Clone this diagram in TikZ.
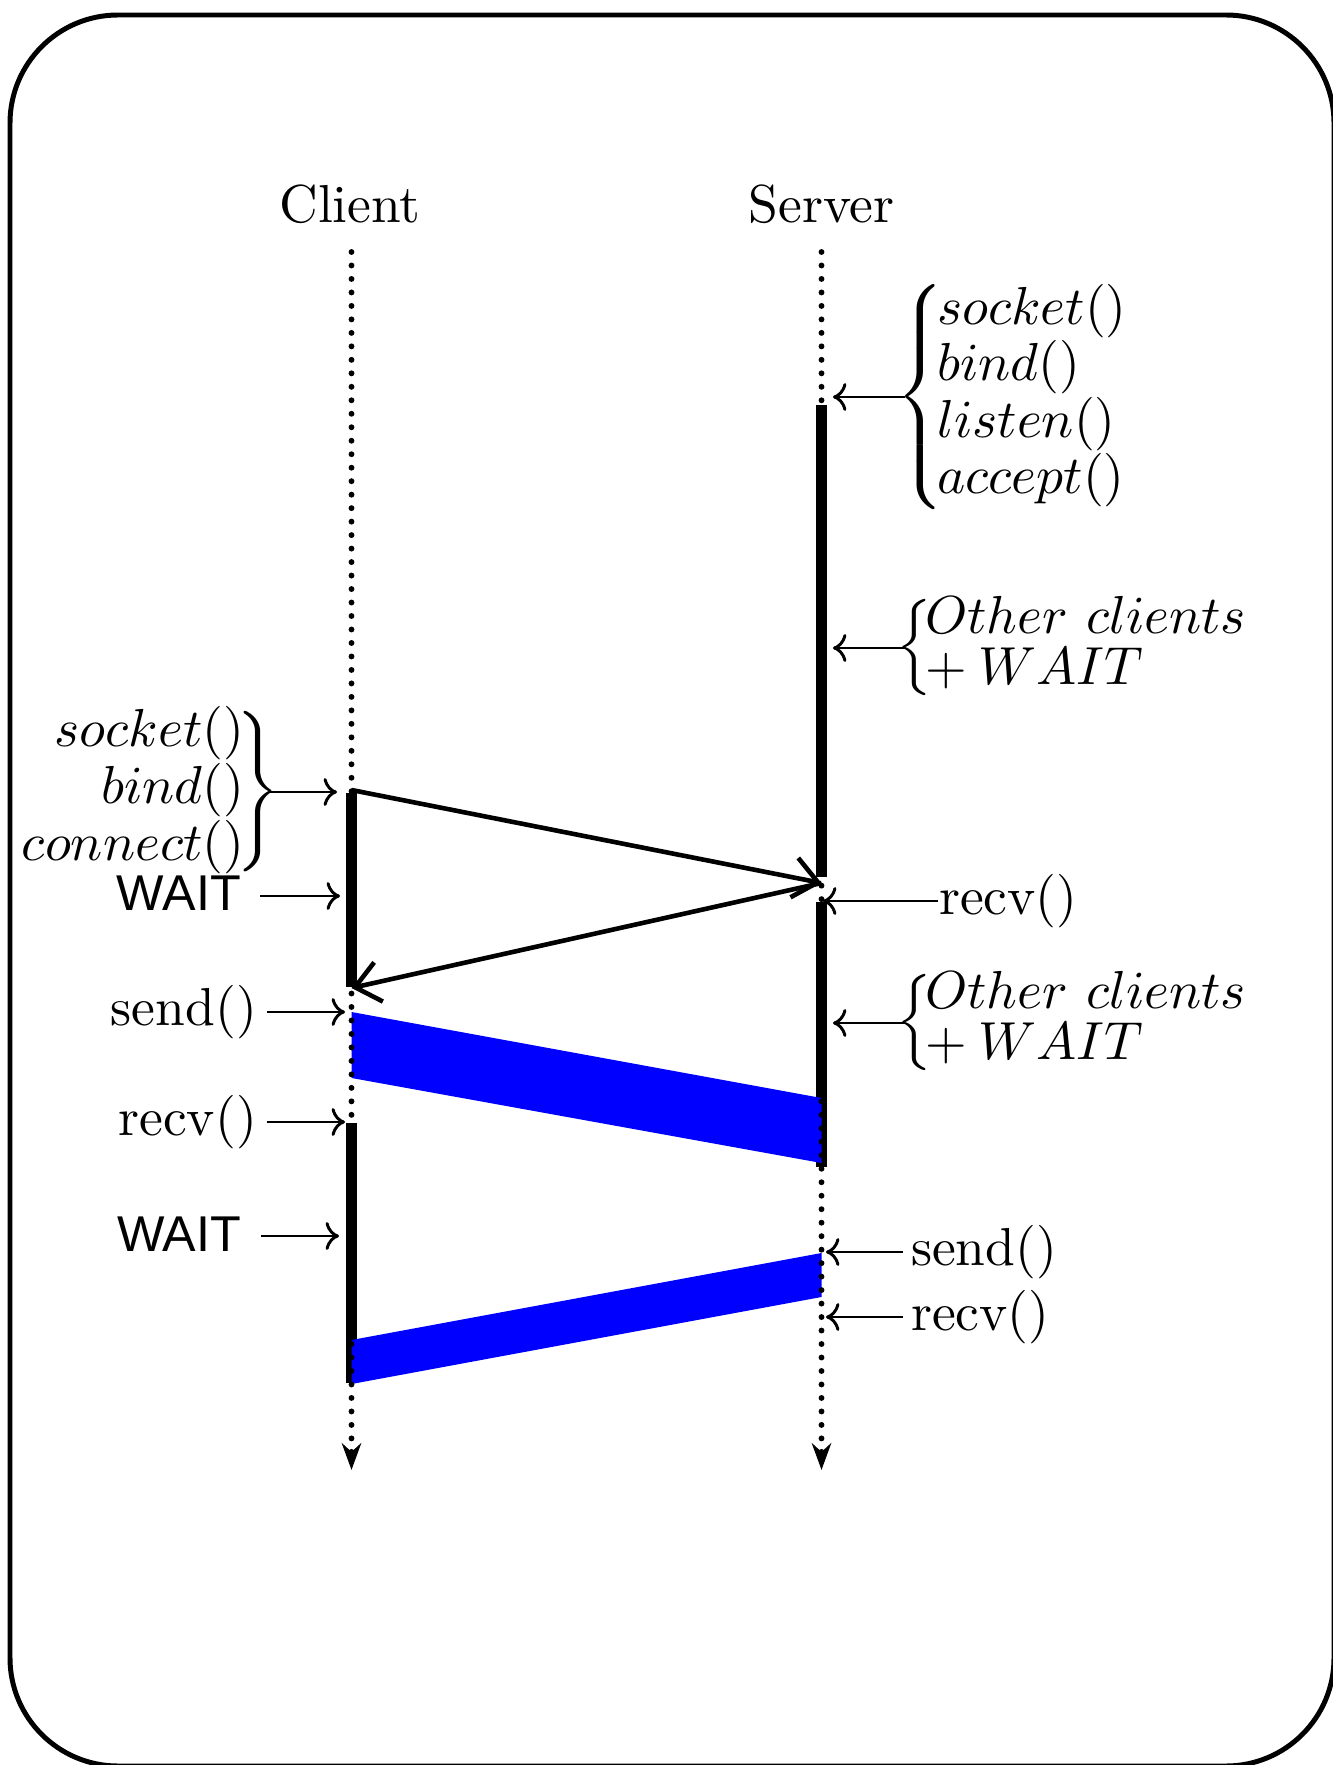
\documentclass[tikz,border=0pt]{standalone}
\usepackage{fontspec}
\newfontfamily\waitfont{Liberation Sans}
\usetikzlibrary{arrows.meta}
\begin{document}
\begin{tikzpicture}[x=0.18692pt,y=-0.18692pt,
  lifeline/.style={line width=1.1pt, line cap=round, dash pattern=on 0pt off 2.52pt, -{Stealth[length=5pt,width=3.6pt]}},
  actbar/.style={line width=2.15pt},
  msg/.style={line width=0.86pt, -{Straight Barb[length=4.5pt,width=7.5pt]}},
  note/.style={line width=0.55pt, -{Computer Modern Rightarrow[length=2.5pt,width=5.2pt]}},
  band/.style={fill=blue, draw=none},
  lbl/.style={inner sep=0pt},
  waitlbl/.style={inner sep=0pt, font=\waitfont\fontsize{9.4}{11}\selectfont},
]
\useasboundingbox (0,0) rectangle (1332,1765);
% frame
\draw[line width=0.93pt, rounded corners=20.2pt] (10,15) rectangle (1334,1766);

% titles
\node[anchor=base] (client) at (350,223) {Client};
\node[anchor=base] (server) at (821.5,223) {Server};

% lifeline coordinates
\coordinate (cTop) at (351.5,252);
\coordinate (cEnd) at (351.5,1470);
\coordinate (sTop) at (821.5,252);
\coordinate (sEnd) at (821.5,1470);

% activation bars
\draw[actbar] (351.5,793) -- (351.5,987);
\draw[actbar] (351.5,1123) -- (351.5,1383);
\draw[actbar] (821.5,405) -- (821.5,877);
\draw[actbar] (821.5,902) -- (821.5,1167);

% data bands
\fill[band] (351.5,1012) -- (821.5,1098) -- (821.5,1163) -- (351.5,1078) -- cycle;
\fill[band] (351.5,1340) -- (821.5,1253) -- (821.5,1297) -- (351.5,1384) -- cycle;

% lifelines
\draw[lifeline] (cTop) -- (cEnd);
\draw[lifeline] (sTop) -- (sEnd);

% messages
\coordinate (c1) at (351.5,790);
\coordinate (s1) at (821.5,883);
\coordinate (c2) at (351.5,988);
\draw[msg] (c1) -- (s1);
\draw[msg] (s1) -- (c2);

% server groups
\node[lbl, anchor=west] (g1) at (905,397) {$\mkern-3.3mu\renewcommand{\arraystretch}{0.846}\left\{\mkern-2.2mu\begin{array}{@{}l@{}}socket()\\ bind()\\ listen()\\ accept()\end{array}\right.$};
\coordinate (g1t) at (833,397);
\draw[note] (g1.west) -- (g1t);

\node[lbl, anchor=west] (g2) at (905,648) {$\mkern-3.3mu\renewcommand{\arraystretch}{0.79}\left\{\mkern-2.2mu\begin{array}{@{}l@{}}Other\ clients\\ +\mkern4mu WAIT\end{array}\right.$};
\coordinate (g2t) at (833,648);
\draw[note] (g2.west) -- (g2t);

\node[lbl, anchor=west] (g3) at (905,1023) {$\mkern-3.3mu\renewcommand{\arraystretch}{0.79}\left\{\mkern-2.2mu\begin{array}{@{}l@{}}Other\ clients\\ +\mkern4mu WAIT\end{array}\right.$};
\coordinate (g3t) at (833,1023);
\draw[note] (g3.west) -- (g3t);

% client group
\node[lbl, anchor=east] (g0) at (270,792) {$\renewcommand{\arraystretch}{0.865}\left.\begin{array}{@{}r@{}}socket()\\ bind()\\ connect()\end{array}\mkern-2.5mu\right\}\mkern-3.7mu$};
\coordinate (g0t) at (337,792);
\draw[note] (g0.east) -- (g0t);

% server labels
\node[lbl, anchor=base west] (srecv1) at (938,914.4) {recv()};
\coordinate (srecv1t) at (823,901);
\draw[note] (srecv1.west |- srecv1t) -- (srecv1t);

\node[lbl, inner xsep=1.3pt, anchor=base west] (ssend) at (903,1265.4) {send()};
\coordinate (ssendt) at (826,1252);
\draw[note] (ssend.west |- ssendt) -- (ssendt);

\node[lbl, inner xsep=1.3pt, anchor=base west] (srecv2) at (903,1330.4) {recv()};
\coordinate (srecv2t) at (826,1317);
\draw[note] (srecv2.west |- srecv2t) -- (srecv2t);

% client labels
\node[lbl, inner xsep=1.7pt, anchor=base east] (csend) at (267,1025.4) {send()};
\coordinate (csendt) at (345,1012);
\draw[note] (csend.east |- csendt) -- (csendt);

\node[lbl, inner xsep=1.7pt, anchor=base east] (crecv) at (267,1135.4) {recv()};
\coordinate (crecvt) at (345,1122);
\draw[note] (crecv.east |- crecvt) -- (crecvt);

\node[waitlbl, inner xsep=3.4pt, anchor=base east] (cwait1) at (260,910) {WAIT};
\coordinate (cwait1t) at (340,896);
\draw[note] (cwait1.east |- cwait1t) -- (cwait1t);

\node[waitlbl, inner xsep=3.5pt, anchor=base east] (cwait2) at (261,1251.5) {WAIT};
\coordinate (cwait2t) at (339,1236);
\draw[note] (cwait2.east |- cwait2t) -- (cwait2t);
\end{tikzpicture}
\end{document}
